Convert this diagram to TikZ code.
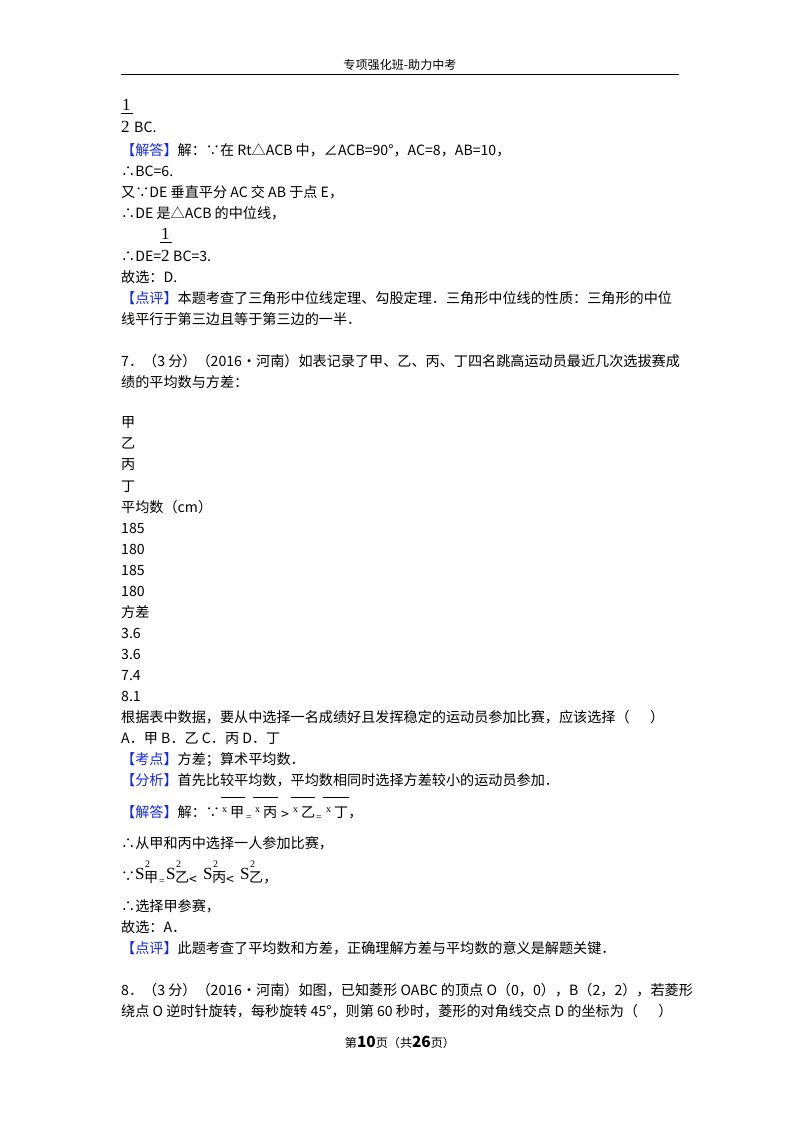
\documentclass[tikz,border=0pt]{standalone}
\usepackage{fontspec}
\setmainfont{Noto Sans CJK SC}
\newfontfamily\serifd{Liberation Serif}
\definecolor{kblue}{RGB}{20,40,230}
\begin{document}
\begin{tikzpicture}[x=1pt,y=-1pt,
  ln/.style={anchor=base west,inner sep=0,font=\fontsize{12.5}{14}\selectfont,scale=1.13,transform shape},
  sm/.style={anchor=base west,inner sep=0,font=\serifd\fontsize{10}{10}\selectfont},
  big/.style={anchor=base west,inner sep=0,font=\serifd\fontsize{17}{17}\selectfont}]
\useasboundingbox[fill=white] (0,0) rectangle (800,1132);
\node[anchor=base,inner sep=0,font=\fontsize{11}{12}\selectfont,scale=1.1,transform shape] (hdr) at (400,70) {专项强化班-助力中考};
\coordinate (r1) at (121,74); \coordinate (r2) at (679,74);
\draw[line width=1pt] (r1) -- (r2);
\node[big] (f1a) at (122,110) {1};
\draw[line width=0.6pt] (121,113) -- (133,113);
\node[big] (f1b) at (121,132) {2};
\node[ln] (f1c) at (134,132) {BC.};
\node[ln] (l1) at (121,155) {\textcolor{kblue}{【解答】}解：∵在 Rt△ACB 中，∠ACB=90°，AC=8，AB=10，};
\node[ln] (l2) at (121,176) {∴BC=6.};
\node[ln] (l3) at (121,197) {又∵DE 垂直平分 AC 交 AB 于点 E，};
\node[ln] (l4) at (121,218) {∴DE 是△ACB 的中位线，};
\node[big] (f2a) at (161,239) {1};
\draw[line width=0.6pt] (160,242) -- (172,242);
\node[ln] (l5) at (121,261) {∴DE=};
\node[big] (f2b) at (161,261) {2};
\node[ln] (l5b) at (173,261) {BC=3.};
\node[ln] (l6) at (121,282) {故选：D.};
\node[ln] (l7) at (121,303) {\textcolor{kblue}{【点评】}本题考查了三角形中位线定理、勾股定理．三角形中位线的性质：三角形的中位};
\node[ln] (l8) at (121,324) {线平行于第三边且等于第三边的一半．};
\node[ln] (q7a) at (121,366) {7．（3 分）（2016•河南）如表记录了甲、乙、丙、丁四名跳高运动员最近几次选拔赛成};
\node[ln] (q7b) at (121,387) {绩的平均数与方差：};
\node[ln] (t1) at (121,427) {甲};
\node[ln] (t2) at (121,448) {乙};
\node[ln] (t3) at (121,469) {丙};
\node[ln] (t4) at (121,491) {丁};
\node[ln] (t5) at (121,512) {平均数（cm）};
\node[ln] (t6) at (121,533) {185};
\node[ln] (t7) at (121,554) {180};
\node[ln] (t8) at (121,575) {185};
\node[ln] (t9) at (121,596) {180};
\node[ln] (t10) at (121,617) {方差};
\node[ln] (t11) at (121,638) {3.6};
\node[ln] (t12) at (121,659) {3.6};
\node[ln] (t13) at (121,680) {7.4};
\node[ln] (t14) at (121,701) {8.1};
\node[ln] (m1) at (121,722) {根据表中数据，要从中选择一名成绩好且发挥稳定的运动员参加比赛，应该选择（\quad\ \ ）};
\node[ln] (m2) at (121,743) {A．甲 B．乙 C．丙 D．丁};
\node[ln] (m3) at (121,764) {\textcolor{kblue}{【考点】}方差；算术平均数．};
\node[ln] (m4) at (121,785) {\textcolor{kblue}{【分析】}首先比较平均数，平均数相同时选择方差较小的运动员参加．};
\node[ln] (m5) at (121,817) {\textcolor{kblue}{【解答】}解：∵};
\node[sm] (x1) at (222,812) {x};
\node[ln] (x1b) at (230,817) {甲};
\draw (221,797) -- (245,797);
\node[sm] (e1) at (246,820) {=};
\node[sm] (x2) at (255,812) {x};
\node[ln] (x2b) at (263,817) {丙};
\draw (253,797) -- (278,797);
\node[ln] (g1) at (281,819) {>};
\node[sm] (x3) at (293,812) {x};
\node[ln] (x3b) at (301,817) {乙};
\draw (291,797) -- (315,797);
\node[sm] (e2) at (316,820) {=};
\node[sm] (x4) at (326,812) {x};
\node[ln] (x4b) at (334,817) {丁，};
\draw (323,797) -- (349,797);
\node[ln] (m6) at (121,848) {∴从甲和丙中选择一人参加比赛，};
\node[ln] (s0) at (121,881) {∵};
\node[big] (s1) at (135,879) {S};
\node[sm] (s1a) at (145,867) {2};
\node[ln] (s1b) at (144,882) {甲};
\node[sm] (s1c) at (159,884) {=};
\node[big] (s2) at (166,879) {S};
\node[sm] (s2a) at (176,867) {2};
\node[ln] (s2b) at (175,882) {乙};
\node[ln] (s2c) at (189,884) {<};
\node[big] (s3) at (203,879) {S};
\node[sm] (s3a) at (213,867) {2};
\node[ln] (s3b) at (212,882) {丙};
\node[ln] (s3c) at (226,884) {<};
\node[big] (s4) at (240,879) {S};
\node[sm] (s4a) at (250,867) {2};
\node[ln] (s4b) at (249,882) {乙，};
\node[ln] (m7) at (121,911) {∴选择甲参赛，};
\node[ln] (m8) at (121,932) {故选：A．};
\node[ln] (m9) at (121,953) {\textcolor{kblue}{【点评】}此题考查了平均数和方差，正确理解方差与平均数的意义是解题关键．};
\node[ln] (q8a) at (121,995) {8．（3 分）（2016•河南）如图，已知菱形 OABC 的顶点 O（0，0），B（2，2），若菱形};
\node[ln] (q8b) at (121,1016) {绕点 O 逆时针旋转，每秒旋转 45°，则第 60 秒时，菱形的对角线交点 D 的坐标为（\quad\ \ ）};
\node[anchor=base,inner sep=0,font=\fontsize{11}{12}\selectfont,scale=1.1,transform shape] (ftr) at (400,1047) {第{\fontsize{14}{14}\selectfont\bfseries 10}页（共{\fontsize{14}{14}\selectfont\bfseries 26}页）};
\end{tikzpicture}
\end{document}
